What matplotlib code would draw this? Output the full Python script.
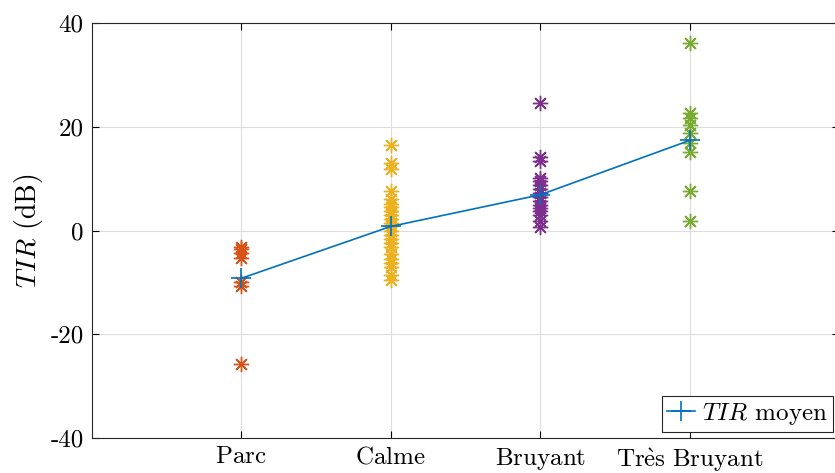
import numpy as np
import matplotlib
matplotlib.use('Agg')
import matplotlib.pyplot as plt

# --- data -----------------------------------------
categories = ['Parc', 'Calme', 'Bruyant', 'Très Bruyant']
parc = [-3.2, -3.6, -4.3, -5.3, -10.0, -10.6, -25.8]
calme = [16.5, 13.0, 11.8, 7.6, 6.0, 5.2, 4.5, 3.8, 3.0, 2.2, 1.5, 0.8,
         0.0, -0.8, -1.6, -2.4, -3.2, -4.5, -5.5, -6.2, -7.0, -8.5, -9.5]
bruyant = [24.6, 14.2, 13.4, 10.2, 9.5, 8.8, 8.0, 7.2, 6.5, 5.8, 5.0,
           4.4, 3.7, 3.0, 1.8, 0.7]
tres_bruyant = [36.2, 22.6, 21.7, 20.3, 18.8, 16.9, 15.1, 7.7, 1.8]
tir_moyen = [-9.2, 0.8, 6.9, 17.4]
yticks = [-40, -20, 0, 20, 40]
# --------------------------------------------------

plt.rcParams['font.family'] = ['cmr10', 'DejaVu Serif']
plt.rcParams['mathtext.fontset'] = 'cm'
plt.rcParams['axes.unicode_minus'] = False

colors = ['#D95319', '#EDB120', '#7E2F8E', '#77AC30']
groups = [parc, calme, bruyant, tres_bruyant]

fig = plt.figure(figsize=(8.35, 4.73), dpi=100)
# axes run a little past the right edge of the figure (as in the original)
ax = fig.add_axes([0.110, 0.074, 0.895, 0.877])

for i, (vals, c) in enumerate(zip(groups, colors)):
    x = np.full(len(vals), i + 1)
    ax.plot(x, vals, linestyle='none', marker=(8, 2, 0), markersize=11,
            markeredgewidth=1.0, color=c)

pos = np.arange(1, len(categories) + 1)
ax.plot(pos, tir_moyen, color='#0072BD', lw=1.2, marker='+',
        markersize=14, markeredgewidth=1.2, label='$TIR$ moyen')

# cmr10 has no è, so set the labels through mathtext (Computer Modern)
def as_cm(s):
    s = s.replace('è', r'\grave{e}').replace(' ', r'\ ')
    return r'$\mathrm{' + s + '}$'

ax.set_xlim(0, 5)
ax.set_ylim(-40, 40)
ax.set_xticks(pos)
ax.set_xticklabels([as_cm(c) for c in categories], fontsize=18)
ax.set_yticks(yticks)
ax.set_yticklabels([str(v) for v in yticks], fontsize=18)
ax.set_ylabel('$TIR$ (dB)', fontsize=20)

ax.grid(True, color='#DDDDDD', lw=0.8)
ax.set_axisbelow(True)
ax.tick_params(direction='in', length=5, width=0.8, top=True, right=True,
               pad=6)
for s in ax.spines.values():
    s.set_linewidth(0.8)
    s.set_color('#262626')

leg = ax.legend(loc='lower right', bbox_to_anchor=(0.998, 0.087),
                bbox_transform=fig.transFigure, fontsize=18, fancybox=False,
                edgecolor='#262626', framealpha=1, borderpad=0.2,
                handlelength=1.1, handletextpad=0.3, borderaxespad=0.0)
leg.get_frame().set_linewidth(0.8)

fig.savefig('out.png', dpi=100)
